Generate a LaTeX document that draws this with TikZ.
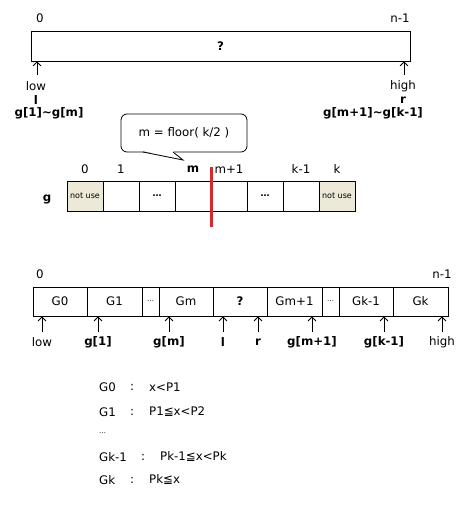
\documentclass[tikz,border=0pt]{standalone}
\usepackage{fontspec}
\setmainfont{DejaVu Sans}
\usepackage{xcolor}
\usetikzlibrary{positioning,arrows.meta}
\definecolor{usegray}{HTML}{ECE9D8}
\definecolor{cutred}{HTML}{D42A2F}
\newcommand{\gdots}{{\fontsize{9}{10}\selectfont\textbf{\ldots}}}
\newcommand{\sdots}{{\fontsize{7}{8}\selectfont\ldots}}

\begin{document}
\begin{tikzpicture}[x=1pt,y=-1pt,font=\fontsize{11.8}{14}\selectfont,
  frame/.style={draw,line width=0.8pt,inner sep=0pt},
  cell/.style={frame,minimum width=36pt,minimum height=30pt},
  unused/.style={cell,fill=usegray,font=\fontsize{8}{9}\selectfont},
  ptr/.style={-{Straight Barb[length=4pt,width=8pt]},line width=0.8pt},
  cut/.style={cutred,line width=3pt}]
\useasboundingbox (0,0) rectangle (469,506);

% whole range
\node[frame,minimum width=379pt,minimum height=30pt] (whole) at (220.5,46) {\textbf{?}};
\node (zero) at (40,18) {0};
\node (last) at (400,18) {n-1};
\coordinate (lowtail) at (37,75);
\coordinate (hightail) at (404,75);
\draw[ptr] (lowtail) -- (lowtail |- whole.south);
\draw[ptr] (hightail) -- (hightail |- whole.south);
\node (low) at (36,86) {low};
\node (lname) at (36,100) {\textbf{l}};
\node (lrange) at (49,113) {\textbf{g[1]\textasciitilde g[m]}};
\node (high) at (403,86) {high};
\node (rname) at (403,100) {\textbf{r}};
\node (rrange) at (373,113) {\textbf{g[m+1]\textasciitilde g[k-1]}};

% middle index
\node[frame,rounded corners=6pt,minimum width=126pt,minimum height=38pt] (note) at (184,133) {m = floor( k/2 )};
\coordinate (notetip) at (183,160);
\fill[white] (143,151) -- (notetip) -- (173,151) -- cycle;
\draw[line width=0.8pt] (143,152) -- (notetip) -- (173,152);

% array g
\node (gname) at (47,199) {\textbf{g}};
\foreach \i/\t/\s in {0/not use/unused,1//cell,2/\gdots/cell,3//cell,4//cell,5/\gdots/cell,6//cell,7/not use/unused}
  \node[\s] (g\i) at (85+36*\i,196) {\t};
\foreach \i/\t in {0/0,1/1,3/\textbf{m},4/m+1,6/k-1,7/k}
  \node (idx\i) at (85+36*\i,169) {\t};
\coordinate (cuttop) at (211,167);
\coordinate (cutbot) at (211,227);
\draw[cut] (cuttop) -- (cutbot);

% groups
\node (gzero) at (40,274) {0};
\node (glast) at (442,274) {n-1};
\foreach \n/\cx/\w/\t in {G0/60/54/G0,G1/114.5/55/G1,d1/150.5/17/\sdots,Gm/186/54/Gm,q/240/54/\textbf{?},Gmm/294.5/55/Gm+1,d2/330.5/17/\sdots,Gkk/366/54/Gk-1,Gk/420.5/55/Gk}
  \node[frame,minimum width=\w pt,minimum height=29pt] (\n) at (\cx,301.5) {\t};
\foreach \n/\x/\t in {a/42/low,b/98/\textbf{g[1]},c/169/\textbf{g[m]},d/223/\textbf{l},e/258/\textbf{r},f/312/\textbf{g[m+1]},h/384/\textbf{g[k-1]},i/442/high}{
  \coordinate (tail\n) at (\x,332);
  \draw[ptr] (tail\n) -- (tail\n |- G0.south);
  \node (lab\n) at (\x,342) {\t};
}

% definitions
\foreach \i/\y/\a/\c/\b in {0/387/G0/132/x<P1,1/412/G1/132/P1≦x<P2,2/457/Gk-1/143/Pk-1≦x<Pk,3/480/Gk/132/Pk≦x}{
  \node[anchor=west,inner sep=0pt] (def\i) at (99,\y) {\a};
  \node[inner sep=0pt] (col\i) at (\c,\y) {:};
  \node[anchor=west,inner sep=0pt] (rng\i) at (\c+17,\y) {\b};
}
\node[anchor=west,inner sep=0pt] (defdots) at (99,433) {\sdots};
\end{tikzpicture}
\end{document}
